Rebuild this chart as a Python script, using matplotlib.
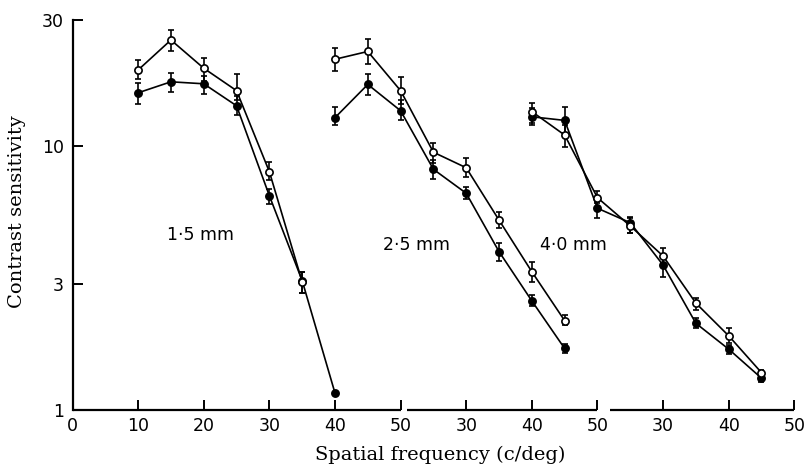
import matplotlib
matplotlib.use("Agg")
import matplotlib.pyplot as plt
import numpy as np

# spatial frequencies (c/deg) for each pupil size
freq_15_open = [10, 15, 20, 25, 30, 35]
freq_15_filled = [10, 15, 20, 25, 30, 35, 40]
freq = [10, 15, 20, 25, 30, 35, 40, 45]

# 1.5 mm
open_15 = [19.4, 25.2, 19.7, 16.2, 7.99, 3.06]
open_15_hi = [21.2, 27.6, 21.6, 18.8, 8.73, 3.34]
open_15_lo = [17.9, 22.8, 17.7, 14.9, 7.43, 2.77]
filled_15 = [15.9, 17.5, 17.2, 14.2, 6.48, 3.09, 1.16]
filled_15_hi = [17.3, 18.9, 18.4, 15.4, 6.9, 3.34, 1.16]
filled_15_lo = [14.4, 16.0, 15.8, 13.1, 6.03, 2.77, 1.16]

# 2.5 mm
open_25 = [21.3, 22.8, 16.2, 9.47, 8.27, 5.24, 3.34, 2.18]
open_25_hi = [23.5, 25.4, 18.2, 10.3, 8.98, 5.63, 3.64, 2.29]
open_25_lo = [19.3, 20.4, 14.4, 8.6, 7.64, 4.87, 3.06, 2.10]
filled_25 = [12.8, 17.1, 13.6, 8.16, 6.62, 3.98, 2.59, 1.71]
filled_25_hi = [14.0, 18.8, 14.9, 8.85, 7.0, 4.28, 2.73, 1.78]
filled_25_lo = [12.0, 15.6, 12.5, 7.47, 6.28, 3.68, 2.48, 1.64]

# 4.0 mm
open_40 = [13.5, 11.0, 6.37, 4.98, 3.83, 2.54, 1.91, 1.385]
open_40_hi = [14.6, 12.0, 6.77, 5.32, 4.09, 2.66, 2.04, 1.42]
open_40_lo = [12.2, 9.95, 6.06, 4.67, 3.59, 2.39, 1.79, 1.35]
filled_40 = [12.9, 12.5, 5.81, 5.12, 3.54, 2.13, 1.70, 1.32]
filled_40_hi = [13.9, 14.1, 6.34, 5.39, 3.83, 2.23, 1.77, 1.35]
filled_40_lo = [12.0, 11.2, 5.32, 4.69, 3.2, 2.04, 1.63, 1.28]

pupil_labels = ["1\u00b75 mm", "2\u00b75 mm", "4\u00b70 mm"]
x_tick_vals = [0, 10, 20, 30, 40, 50, 60, 70, 80, 90, 100, 110]
x_tick_labels = ["0", "10", "20", "30", "40", "50", "30", "40", "50", "30", "40", "50"]
y_tick_vals = [1, 3, 10, 30]
y_tick_labels = ["1", "3", "10", "30"]

# each panel shifted along the shared axis
offsets = [0, 30, 60]

fig = plt.figure(figsize=(8.07, 4.73), dpi=100)
ax = fig.add_axes([72.5 / 807, 63 / 473, (794.3 - 72.5) / 807, 390 / 473])


def draw(x, y, lo, hi, filled, off):
    x = np.array(x) + off
    y = np.array(y)
    yerr = [y - np.array(lo), np.array(hi) - y]
    ax.errorbar(x, y, yerr=yerr, fmt="none", ecolor="black", elinewidth=1.2,
                capsize=2.2, capthick=1.2, zorder=2)
    ax.plot(x, y, color="black", linewidth=1.2, marker="o", markersize=5.2,
            markerfacecolor="black" if filled else "white",
            markeredgecolor="black", markeredgewidth=1.2,
            zorder=4 if not filled else 3)


draw(freq_15_filled, filled_15, filled_15_lo, filled_15_hi, True, offsets[0])
draw(freq_15_open, open_15, open_15_lo, open_15_hi, False, offsets[0])
draw(freq, filled_25, filled_25_lo, filled_25_hi, True, offsets[1])
draw(freq, open_25, open_25_lo, open_25_hi, False, offsets[1])
draw(freq, filled_40, filled_40_lo, filled_40_hi, True, offsets[2])
draw(freq, open_40, open_40_lo, open_40_hi, False, offsets[2])

ax.set_yscale("log")
ax.set_ylim(1, 30)
ax.set_xlim(0, 110)

ax.set_yticks(y_tick_vals)
ax.set_yticklabels(y_tick_labels)
ax.yaxis.set_minor_locator(matplotlib.ticker.NullLocator())
ax.set_xticks(x_tick_vals)
ax.set_xticklabels(x_tick_labels)
ax.tick_params(direction="in", length=7, width=1.4, labelsize=12.5, pad=5)
ax.tick_params(axis="y", pad=6)

for s in ["top", "right", "bottom"]:
    ax.spines[s].set_visible(False)
ax.spines["left"].set_linewidth(1.6)

# broken x axis, one segment per panel
segments = [(0, 50), (51, 80), (81.9, 110)]
for a, b in segments:
    ax.plot([a, b], [1, 1], color="black", linewidth=1.6, clip_on=False,
            solid_capstyle="butt", zorder=5)

label_pos = [(19.5, 4.6), (52.5, 4.2), (76.3, 4.2)]
for (lx, ly), txt in zip(label_pos, pupil_labels):
    ax.text(lx, ly, txt, fontsize=12.5, ha="center", va="center")

fig.text(440 / 807, 1 - 455 / 473, "Spatial frequency (c/deg)", family="DejaVu Serif",
         fontsize=14, ha="center", va="center")
fig.text(17 / 807, 1 - 212 / 473, "Contrast sensitivity", family="DejaVu Serif",
         fontsize=14, ha="center", va="center", rotation=90)

fig.savefig("out.png", dpi=100)
